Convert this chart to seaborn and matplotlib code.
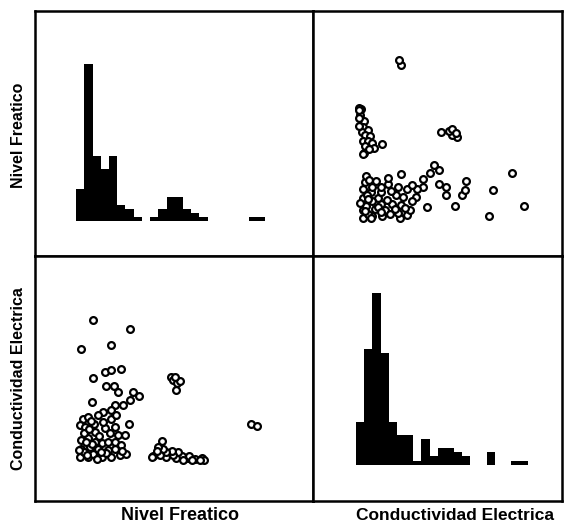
import numpy as np
import pandas as pd
import matplotlib
matplotlib.use("Agg")
import matplotlib.pyplot as plt
import seaborn as sns

# --- data read off the scanned matrix (arbitrary units, no scale shown) ---
# points: (nivel freatico, conductividad electrica)
nivel = [2.0, 6.6, 0.65, 4.2,
         2.07, 3.5, 4.2, 5.5,
         3.6, 4.6, 5.1, 6.9, 7.7, 6.5, 5.7, 4.7, 4.3, 1.9,
         3.3, 4.3, 6.4, 0.85, 1.46, 0.45,
         1.05, 2.3, 3.5, 4.7, 5.1, 5.9,
         0.65, 1.46, 2.3, 3.1, 3.9, 4.7, 5.5,
         0.65, 1.67, 2.7, 3.9, 4.7,
         0.45, 1.46, 3.1, 4.3, 5.3, 6.1,
         1.0, 2.0, 2.5, 3.6, 1.9, 0.9, 2.8, 4.1, 1.3, 2.2, 3.3, 1.8, 1.2, 0.4,
         5.6, 3.0, 1.6, 4.9, 2.7,
         15.3, 14.5, 13.6, 13.7, 12.9, 12.2, 12.4, 11.8, 11.6, 10.9, 10.9, 10.6,
         10.2, 10.5, 10.0, 9.3, 15.5, 14.1, 9.8, 9.2, 13.0, 15.1,
         11.5, 11.8, 12.3, 12.2, 12.6, 12.0,
         21.3, 22.0]
conductividad = [20.5, 19.1, 16.3, 16.8,
                 12.1, 13.0, 13.3, 13.4,
                 11.0, 11.0, 10.1, 10.1, 9.5, 9.0, 8.2, 8.2, 7.5, 8.7,
                 7.3, 6.3, 5.5, 6.3, 6.6, 5.4,
                 5.1, 4.4, 4.9, 5.1, 3.9, 3.9,
                 3.2, 3.5, 3.0, 2.75, 3.0, 3.0, 2.5,
                 2.0, 2.3, 2.0, 1.8, 2.0,
                 0.83, 0.83, 0.83, 0.83, 1.07, 1.2,
                 1.5, 1.2, 0.5, 1.4, 2.7, 4.2, 3.8, 4.3, 1.1, 5.5, 5.8, 6.0, 3.0, 1.8,
                 1.6, 1.5, 4.8, 6.8, 6.8,
                 0.61, 0.49, 0.69, 0.98, 0.90, 0.69, 1.51, 1.10, 1.71, 0.82, 1.51, 1.92,
                 1.10, 3.14, 2.20, 0.98, 0.40, 0.40, 1.6, 0.83, 0.36, 0.36,
                 12.3, 11.8, 11.4, 10.4, 11.7, 12.2,
                 5.5, 5.2]

# histogram counts (bins of width 1 starting at 0)
nivel_counts = [8, 39, 16, 13, 16, 4, 3, 1, 0, 1, 3, 6, 6, 3, 2, 1,
                0, 0, 0, 0, 0, 1, 1]
cond_counts = [10, 27, 40, 26, 10, 7, 7, 1, 6, 2, 4, 4, 3, 2, 0, 0,
               3, 0, 0, 1, 1]

labels = ["Nivel Freatico", "Conductividad Electrica"]

sns.set_style("white")
plt.rcParams["font.family"] = ["Liberation Sans", "DejaVu Sans"]

W, H = 582, 523
fig = plt.figure(figsize=(W / 100, H / 100), dpi=100)


def box(x0, y0, x1, y1):
    # pixel box (from top-left) -> figure fraction rect
    return [x0 / W, 1 - y1 / H, (x1 - x0) / W, (y1 - y0) / H]


ax_tl = fig.add_axes(box(35, 11, 313, 256))
ax_tr = fig.add_axes(box(313, 11, 562, 256))
ax_bl = fig.add_axes(box(35, 256, 313, 501))
ax_br = fig.add_axes(box(313, 256, 562, 501))

nivel_hist = pd.DataFrame({"mid": np.arange(len(nivel_counts)) + 0.5,
                           "n": nivel_counts})
cond_hist = pd.DataFrame({"mid": np.arange(len(cond_counts)) + 0.5,
                          "n": cond_counts})

sns.histplot(data=nivel_hist, x="mid", weights="n",
             bins=list(range(len(nivel_counts) + 1)),
             color="black", edgecolor="black", linewidth=0, alpha=1, ax=ax_tl)
sns.histplot(data=cond_hist, x="mid", weights="n",
             bins=list(range(len(cond_counts) + 1)),
             color="black", edgecolor="black", linewidth=0, alpha=1, ax=ax_br)

pts = pd.DataFrame({"nivel": nivel, "cond": conductividad})
pt = dict(s=24, color="white", edgecolor="black", linewidth=1.6, marker="o")
sns.scatterplot(data=pts, x="cond", y="nivel", ax=ax_tr, **pt)
sns.scatterplot(data=pts, x="nivel", y="cond", ax=ax_bl, **pt)

ax_tl.set_xlim(-5.0, 28.8)
ax_tl.set_ylim(-8.7, 52.1)
ax_br.set_xlim(-5.26, 25.2)
ax_br.set_ylim(-8.4, 48.6)
ax_tr.set_xlim(-5.26, 25.2)
ax_tr.set_ylim(-4.8, 28.7)
ax_bl.set_xlim(-5.0, 28.8)
ax_bl.set_ylim(-5.5, 29.6)

for ax in (ax_tl, ax_tr, ax_bl, ax_br):
    ax.set_xticks([])
    ax.set_yticks([])
    ax.set_xlabel("")
    ax.set_ylabel("")
    for sp in ax.spines.values():
        sp.set_visible(True)
        sp.set_color("black")
        sp.set_linewidth(1.8)

txt = dict(fontweight="bold", color="black", ha="center", va="center")
fig.text(19 / W, 1 - 135 / H, labels[0], rotation=90, fontsize=11.5, **txt)
fig.text(19 / W, 1 - 379 / H, labels[1], rotation=90, fontsize=11.5, **txt)
fig.text(180 / W, 1 - 516 / H, labels[0], fontsize=13, **txt)
fig.text(455 / W, 1 - 516 / H, labels[1], fontsize=12.5, **txt)

fig.savefig("out.png", dpi=100)
